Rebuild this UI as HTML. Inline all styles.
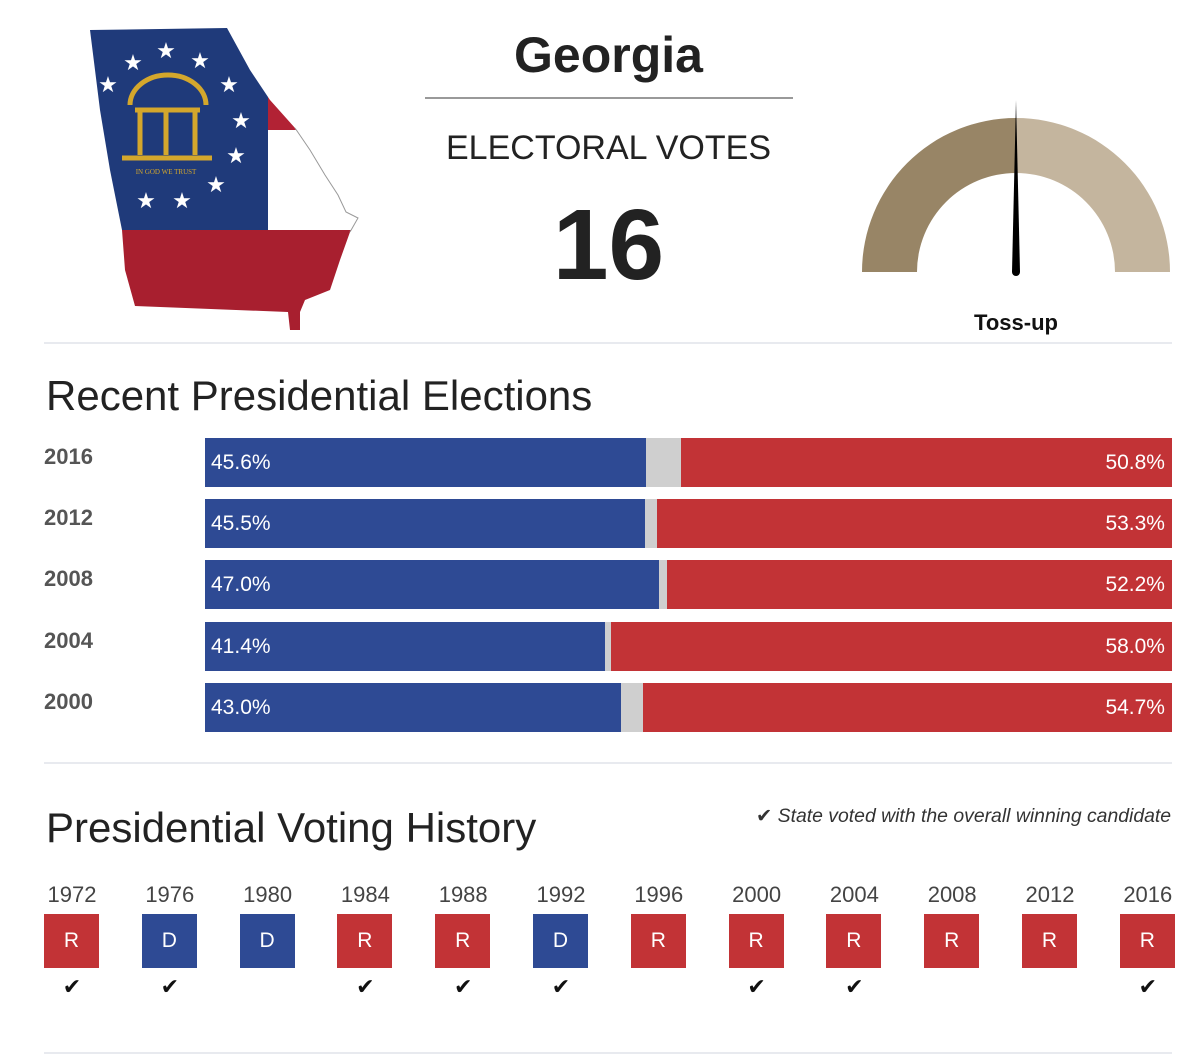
<!DOCTYPE html>
<html><head><meta charset="utf-8"><style>
body{margin:0;width:1200px;height:1058px;background:#fff;font-family:"Liberation Sans","DejaVu Sans",sans-serif;position:relative;overflow:hidden}
.a{position:absolute}
.sep{position:absolute;left:44px;width:1128px;height:2px;background:#e8eaef}
.yr{position:absolute;left:44px;font-size:22px;font-weight:bold;color:#555}
.bar{position:absolute;height:49px;color:#fff;font-size:21px;line-height:49px}
.hy{position:absolute;width:56px;text-align:center;font-size:22px;color:#444}
.hb{position:absolute;width:55px;height:54px;color:#fff;text-align:center;line-height:54px;font-size:21px}
.ck{position:absolute;width:56px;text-align:center;font-size:22px;color:#111}
</style></head><body>
<svg class="a" style="left:0;top:0" width="400" height="340">
<defs><clipPath id="ga"><polygon points="90,30 227,28 250,70 270,100 295,128 310,150 325,175 338,195 346,212 358,218 350,232 340,260 330,290 305,300 300,312 300,330 290,330 288,312 135,306 125,270 122,230 110,170 100,110"/></clipPath></defs>
<g clip-path="url(#ga)">
<rect x="80" y="20" width="300" height="320" fill="#fff"/>
<rect x="80" y="20" width="188" height="210" fill="#1f3a7a"/>
<rect x="268" y="20" width="120" height="110" fill="#b22234"/>
<rect x="80" y="230" width="300" height="110" fill="#a81f2f"/>
</g>
<polyline points="295,128 310,150 325,175 338,195 346,212 358,218 350,232" fill="none" stroke="#999" stroke-width="1"/>
<g fill="#fff" font-size="22" text-anchor="middle">
<text x="133" y="70">★</text><text x="166" y="58">★</text><text x="200" y="68">★</text><text x="229" y="92">★</text><text x="241" y="128">★</text><text x="236" y="163">★</text><text x="216" y="192">★</text><text x="182" y="208">★</text><text x="146" y="208">★</text><text x="108" y="92">★</text>
</g>
<g fill="none" stroke="#d4a72c" stroke-width="5">
<path d="M130,105 A38,30 0 0 1 206,105"/><line x1="135" y1="110" x2="200" y2="110"/>
<line x1="140" y1="112" x2="140" y2="155"/><line x1="166" y1="112" x2="166" y2="155"/><line x1="195" y1="112" x2="195" y2="155"/>
<line x1="122" y1="158" x2="212" y2="158"/>
</g>
<text x="166" y="174" font-size="7" fill="#d4a72c" text-anchor="middle" font-family="Liberation Serif,serif">IN GOD WE TRUST</text>
</svg>

<div class="a" style="left:425px;top:26px;width:367px;text-align:center;font-size:50px;font-weight:bold;color:#222">Georgia</div>
<div class="a" style="left:425px;top:97px;width:368px;height:2px;background:#999"></div>
<div class="a" style="left:425px;top:129px;width:367px;text-align:center;font-size:34px;color:#222">ELECTORAL VOTES</div>
<div class="a" style="left:425px;top:190px;width:367px;text-align:center;font-size:100px;font-weight:bold;color:#222;line-height:110px">16</div>

<svg class="a" style="left:850px;top:90px" width="330" height="200">
<path d="M12,182 A154,154 0 0 1 166,28 L166,83 A99,99 0 0 0 67,182 Z" fill="#988566"/>
<path d="M166,28 A154,154 0 0 1 320,182 L265,182 A99,99 0 0 0 166,83 Z" fill="#c4b59e"/>
<polygon points="162,182 166,10 170,182" fill="#000"/>
<circle cx="166" cy="182" r="4" fill="#000"/>
</svg>
<div class="a" style="left:916px;top:310px;width:200px;text-align:center;font-size:22px;font-weight:bold;color:#111">Toss-up</div>

<div class="sep" style="top:342px"></div>
<div class="a" style="left:46px;top:372px;font-size:42px;color:#222">Recent Presidential Elections</div>
<div id="bars"></div>

<div class="sep" style="top:762px"></div>
<div class="a" style="left:46px;top:804px;font-size:42px;color:#222">Presidential Voting History</div>
<div class="a" style="left:756px;top:804px;font-size:19.4px;font-style:italic;color:#333">✔ State voted with the overall winning candidate</div>
<div id="hist"></div>
<div class="sep" style="top:1052px"></div>

<script>
const years=["2016","2012","2008","2004","2000"];
const demPct=[45.6,45.5,47.0,41.4,43.0];
const repPct=[50.8,53.3,52.2,58.0,54.7];
const histYears=["1972","1976","1980","1984","1988","1992","1996","2000","2004","2008","2012","2016"];
const histParty=["R","D","D","R","R","D","R","R","R","R","R","R"];
const histWinner=[1,1,0,1,1,1,0,1,1,0,0,1];

const X0=205,W=967,Y0=438,P=61.2;
const xs=v=>v/100*W;
const bars=document.getElementById('bars');
years.forEach((y,i)=>{
  const top=Y0+i*P;
  const l=document.createElement('div');l.className='yr';l.style.top=(top+6)+'px';l.textContent=y;
  
  
  bars.appendChild(l);
  const g=document.createElement('div');g.className='bar';g.style.left=X0+'px';g.style.width=W+'px';g.style.top=top+'px';g.style.background='#cfcfcf';
  
  
  bars.appendChild(g);
  const d=document.createElement('div');d.className='bar';d.style.left=X0+'px';d.style.width=xs(demPct[i])+'px';d.style.top=top+'px';d.style.background='#2e4a94';d.style.paddingLeft='6px';d.style.boxSizing='border-box';d.textContent=demPct[i].toFixed(1)+'%';
  
  
  bars.appendChild(d);
  const r=document.createElement('div');r.className='bar';r.style.left=(X0+W-xs(repPct[i]))+'px';r.style.width=xs(repPct[i])+'px';r.style.top=top+'px';r.style.background='#c23336';r.style.textAlign='right';r.style.paddingRight='7px';r.style.boxSizing='border-box';r.textContent=repPct[i].toFixed(1)+'%';
  
  
  bars.appendChild(r);
});
const hist=document.getElementById('hist');
histYears.forEach((y,i)=>{
  const x=44+i*97.8;
  const t=document.createElement('div');t.className='hy';t.style.left=x+'px';t.style.top='882px';t.textContent=y;
  
  
  hist.appendChild(t);
  const b=document.createElement('div');b.className='hb';b.style.left=x+'px';b.style.top='914px';b.style.background=histParty[i]=='R'?'#c23336':'#2e4a94';b.textContent=histParty[i];
  
  
  hist.appendChild(b);
  if(histWinner[i]){
    const c=document.createElement('div');c.className='ck';c.style.left=x+'px';c.style.top='974px';c.textContent='✔';
    
    
    hist.appendChild(c);
  }
});
</script>
</body></html>
